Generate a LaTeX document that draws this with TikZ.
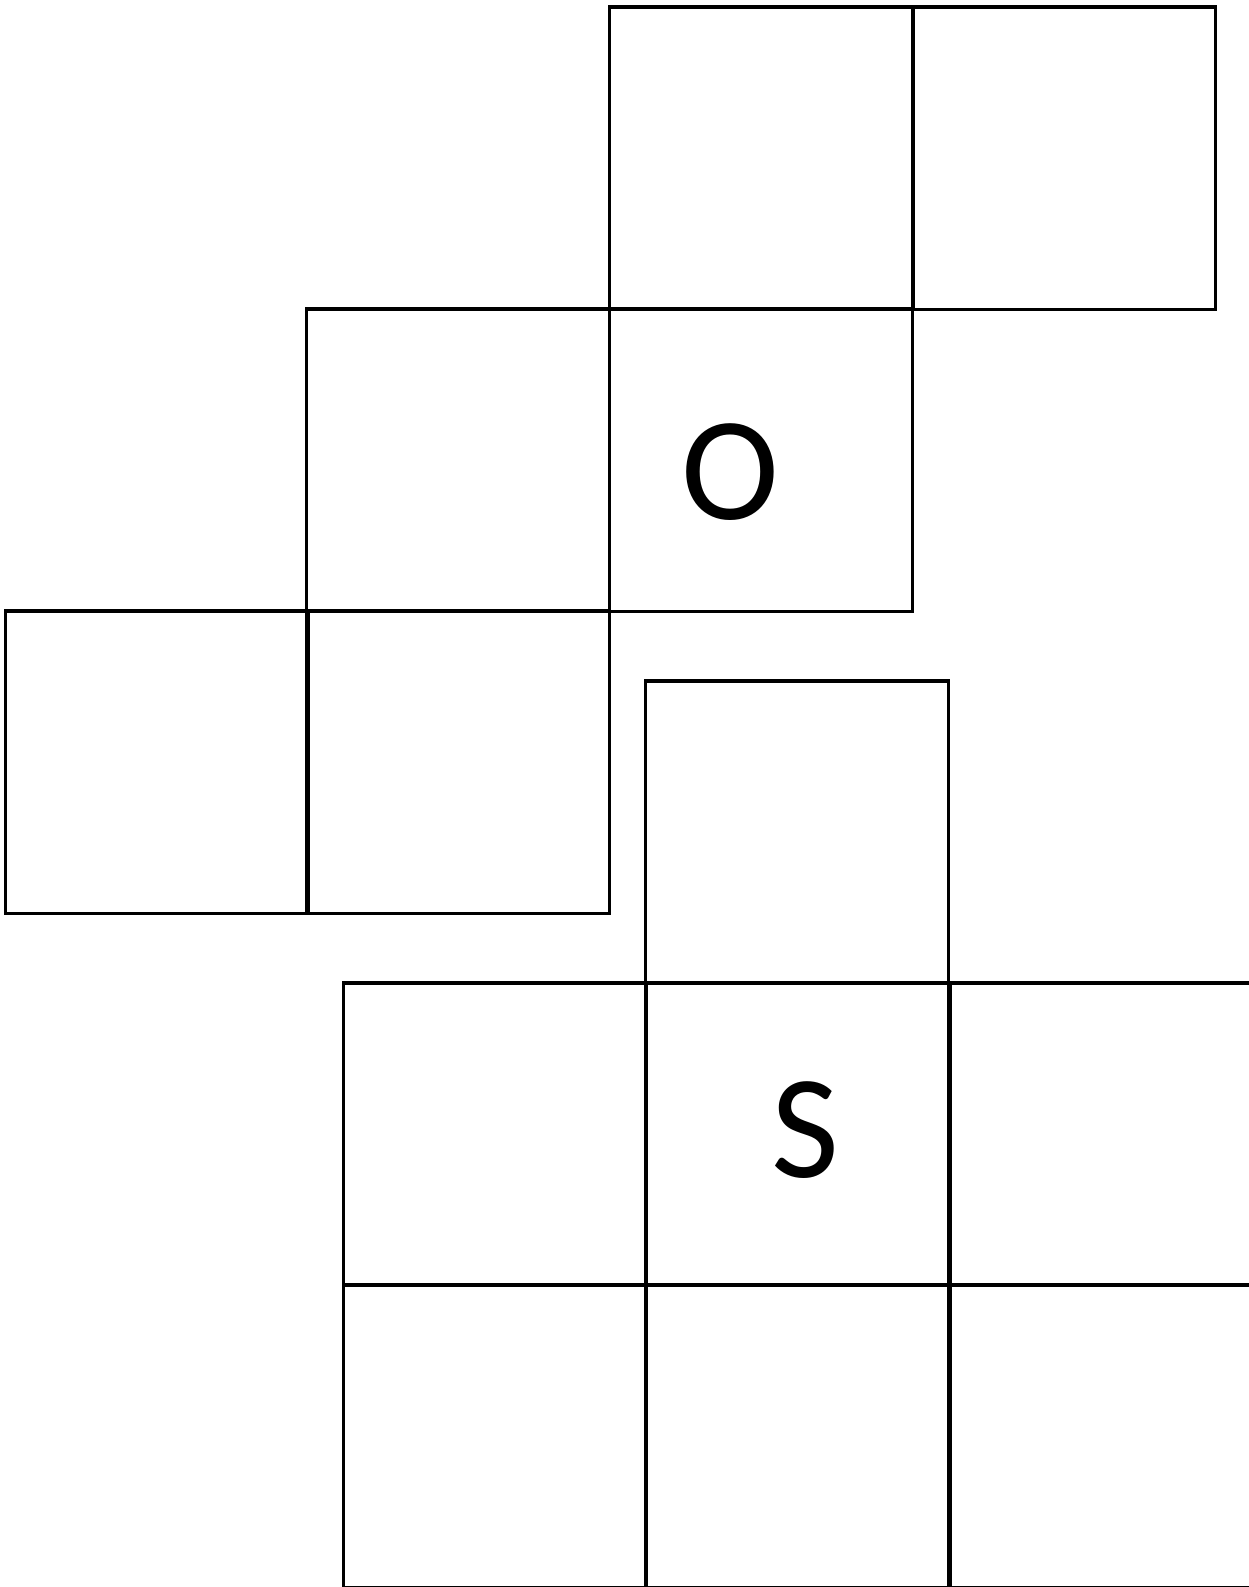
\documentclass[tikz,border=0pt]{standalone}
\usepackage{fontspec}
\newfontfamily\cellfont{Carlito}
\usepackage{tikz}
\tikzset{
  cell/.style={draw=black,line width=0.9pt,minimum size=3.02cm,inner sep=0pt,outer sep=0pt},
  letter/.style={inner sep=0pt,font=\cellfont\fontsize{42}{50}\selectfont}
}

\begin{document}
\begin{tikzpicture}[x=0.01cm,y=-0.01cm]
\useasboundingbox (0,0) rectangle (1249,1587);
\clip (0,0) rectangle (1249,1587);
% upper staircase
\foreach \name/\x/\y in {a1/761/158, a2/1064/158, b1/458/460, b2/761/460, c1/157/762, c2/458/762}
  \node[cell] (\name) at (\x,\y) {};
% lower block
\foreach \name/\x/\y in {d/797/832, e1/495/1134, e2/797/1134, e3/1101/1134, f1/495/1436, f2/797/1436, f3/1101/1436}
  \node[cell] (\name) at (\x,\y) {};
\node[letter] (o) at (730,472) {O};
\node[letter] (s) at (805,1130) {S};
\end{tikzpicture}
\end{document}
